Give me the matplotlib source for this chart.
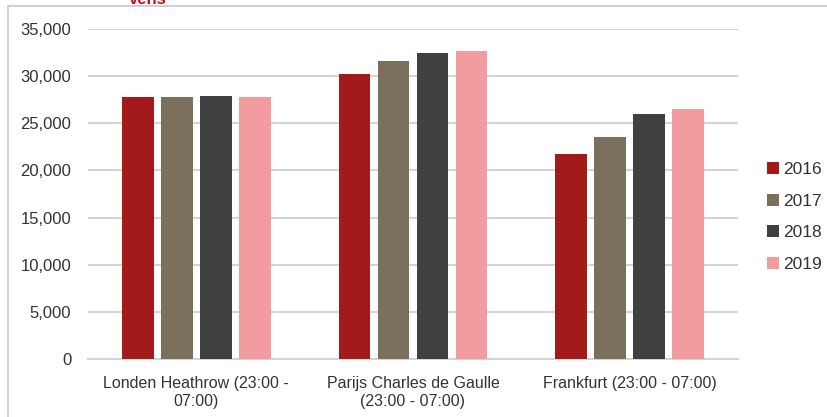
import matplotlib.pyplot as plt
import matplotlib.ticker as ticker
import numpy as np
from matplotlib.patches import Rectangle

plt.rcParams["font.family"] = ["Liberation Sans", "DejaVu Sans"]

# ===========================
# DATA
# ===========================
airports = [
    "Londen Heathrow (23:00 -\n07:00)",
    "Parijs Charles de Gaulle\n(23:00 - 07:00)",
    "Frankfurt (23:00 - 07:00)",
]
years = ["2016", "2017", "2018", "2019"]
flights_2016 = [27750, 30200, 21700]
flights_2017 = [27820, 31580, 23520]
flights_2018 = [27880, 32420, 25950]
flights_2019 = [27750, 32650, 26550]
series = [flights_2016, flights_2017, flights_2018, flights_2019]
colors = ["#a21a19", "#7a705b", "#404040", "#f29ca0"]

# ===========================
# FIGURE
# ===========================
fig = plt.figure(figsize=(8.28, 4.17), dpi=100)
ax = fig.add_axes([88 / 828, 1 - 359 / 417, 650 / 828, 330 / 417])

# outer frame (left + top visible)
fig.patches.append(Rectangle((8 / 828, -0.1), 1.2, 1 - 6 / 417 + 0.1,
                             transform=fig.transFigure, fill=False,
                             edgecolor="#c8c8c8", lw=1.2, zorder=0))

# clipped title remnant at the very top
fig.text(148 / 828, 1.0, "vens", color="#c0141c", fontsize=12,
         fontweight="bold", ha="center", va="center")

x = np.arange(len(airports))
step = 0.18
width = 0.145
for i, (vals, yr, col) in enumerate(zip(series, years, colors)):
    ax.bar(x + (i - 1.5) * step, vals, width, color=col, label=yr, zorder=3)

ax.set_xlim(-0.5, 2.5)
ax.set_ylim(0, 35000)
ax.yaxis.set_major_locator(ticker.MultipleLocator(5000))
ax.yaxis.set_major_formatter(ticker.FuncFormatter(lambda v, p: f"{int(v):,}"))
ax.grid(axis="y", color="#d4d4d4", lw=1.5, zorder=0)
ax.set_axisbelow(True)

for s in ["top", "right", "left"]:
    ax.spines[s].set_visible(False)
ax.spines["bottom"].set_color("#d4d4d4")
ax.spines["bottom"].set_linewidth(1.5)

ax.set_xticks(x)
ax.set_xticklabels(airports, fontsize=11.5, color="#333333", linespacing=1.3)
ax.tick_params(axis="both", length=0)
ax.tick_params(axis="y", labelsize=12, labelcolor="#333333", pad=12)
ax.tick_params(axis="x", pad=12)

leg = ax.legend(loc="center left", bbox_to_anchor=(1.02, 0.43), frameon=False,
                fontsize=12.5, handlelength=0.7, handleheight=0.7,
                handletextpad=0.25, labelspacing=0.95, labelcolor="#333333")

plt.savefig("out.png", dpi=100)
